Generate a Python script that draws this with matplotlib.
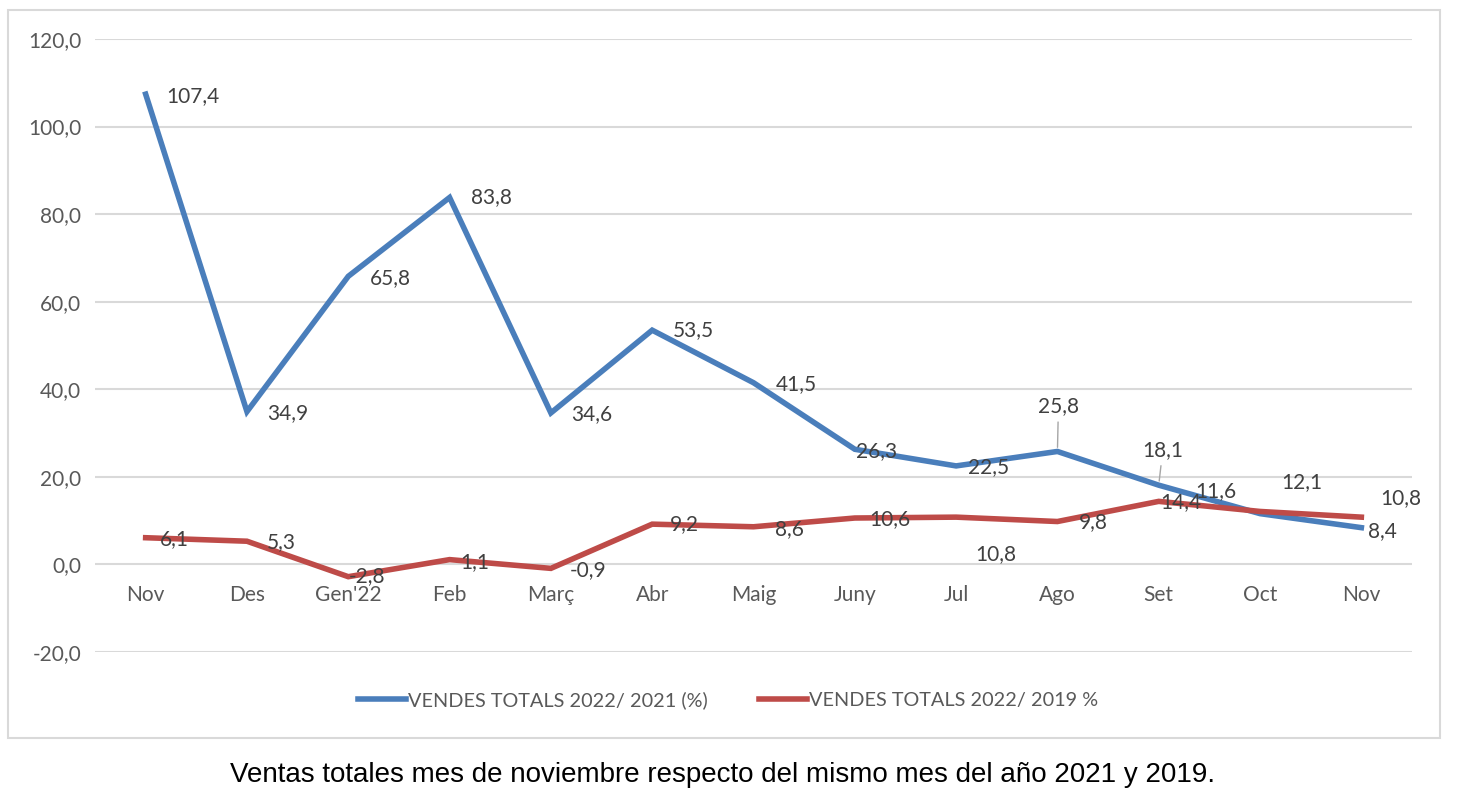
import matplotlib.pyplot as plt
from matplotlib.patches import Rectangle

months = ['Nov', 'Des', "Gen'22", 'Feb', 'Març', 'Abr', 'Maig', 'Juny',
          'Jul', 'Ago', 'Set', 'Oct', 'Nov']
vendes_2021 = [107.4, 34.9, 65.8, 83.8, 34.6, 53.5, 41.5, 26.3, 22.5, 25.8, 18.1, 11.6, 8.4]
vendes_2019 = [6.1, 5.3, -2.8, 1.1, -0.9, 9.2, 8.6, 10.6, 10.8, 9.8, 14.4, 12.1, 10.8]
label_2021 = 'VENDES TOTALS 2022/ 2021 (%)'
label_2019 = 'VENDES TOTALS 2022/ 2019 %'
caption = 'Ventas totales mes de noviembre respecto del mismo mes del año 2021 y 2019.'

# label offsets in pixels (placed by hand like the excel chart)
off_2021 = [(47, -2), (41, -1), (42, -2), (42, 0), (41, -1), (41, 0), (43, -1),
            (22, -2), (32, -1), (1, 45), (4, 35), (-44, 23), (21, -3)]
off_2019 = [(29, -1), (34, -1), (19, 1), (25, -2), (37, -2), (32, 0), (36, -2),
            (35, -1), (40, -37), (36, -1), (22, -1), (42, 29), (39, 19)]

plt.rcParams['font.family'] = ['Lato', 'DejaVu Sans']

fig = plt.figure(figsize=(14.58, 8.1), dpi=100)
ax = fig.add_axes([95/1458, 1-652/810, (1412-95)/1458, (652-39)/810])

blue = '#4a7ebb'
red = '#be4b48'
x = list(range(len(months)))
ax.plot(x, vendes_2021, color=blue, lw=4, label=label_2021, solid_joinstyle='miter', zorder=3)
ax.plot(x, vendes_2019, color=red, lw=4, label=label_2019, solid_joinstyle='miter', zorder=3)

for i, v in enumerate(vendes_2021):
    dx, dy = off_2021[i]
    arrow = None
    if i in (9, 10):
        arrow = dict(arrowstyle='-', color='#a6a6a6', lw=1, shrinkA=2, shrinkB=3)
    ax.annotate(f'{v:.1f}'.replace('.', ','), (i, v), xytext=(dx, dy),
                textcoords='offset pixels', ha='center', va='center',
                fontsize=15, color='#404040', arrowprops=arrow, zorder=4)
for i, v in enumerate(vendes_2019):
    dx, dy = off_2019[i]
    ax.annotate(f'{v:.1f}'.replace('.', ','), (i, v), xytext=(dx, dy),
                textcoords='offset pixels', ha='center', va='center',
                fontsize=15, color='#404040', zorder=4)

ax.set_xlim(-0.5, len(months) - 0.5)
ax.set_ylim(-20, 120)
ax.set_yticks(range(-20, 121, 20))
ax.set_yticklabels([f'{t:.1f}'.replace('.', ',') for t in range(-20, 121, 20)])
ax.set_xticks(x)
ax.set_xticklabels(months)
ax.grid(axis='y', color='#d9d9d9', lw=1.5)
ax.set_axisbelow(True)
for s in ['top', 'right', 'left']:
    ax.spines[s].set_visible(False)
ax.spines['bottom'].set_position(('data', 0))
ax.spines['bottom'].set_color('none')
ax.tick_params(axis='both', length=0, labelsize=15, labelcolor='#595959')
ax.tick_params(axis='y', pad=10)
ax.tick_params(axis='x', pad=15)

fig.legend(loc='center', bbox_to_anchor=(728/1458, 1-700/810), ncol=2, frameon=False,
           fontsize=14.3, labelcolor='#595959', handlelength=2.4, handletextpad=0.1,
           columnspacing=2.6)

fig.patches.append(Rectangle((8/1458, 1-738/810), 1432/1458, 728/810, transform=fig.transFigure,
                             fill=False, edgecolor='#d9d9d9', lw=1.5))
fig.text(722/1458, 1-775/810, caption, ha='center', va='center', fontsize=20,
         family='Liberation Sans', color='black')

fig.savefig('out.png', dpi=100)
